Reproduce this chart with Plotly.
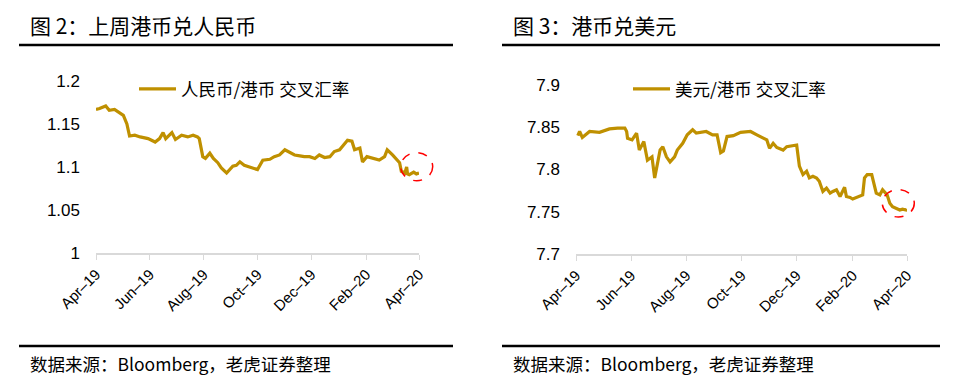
import plotly.graph_objects as go

# ---------------- data ----------------
cny_dates = ["2019-04-01","2019-04-05","2019-04-12","2019-04-16","2019-04-22","2019-04-28","2019-05-02",
             "2019-05-06","2019-05-09","2019-05-15","2019-05-21","2019-05-30","2019-06-07","2019-06-12",
             "2019-06-16","2019-06-19","2019-06-26","2019-06-30","2019-07-07","2019-07-14","2019-07-20",
             "2019-07-25","2019-07-27","2019-07-31","2019-08-03","2019-08-08","2019-08-12","2019-08-17",
             "2019-08-21","2019-08-27","2019-08-30","2019-09-03","2019-09-07","2019-09-11","2019-09-16",
             "2019-09-22","2019-10-01","2019-10-07","2019-10-15","2019-10-20","2019-10-26","2019-11-01",
             "2019-11-06","2019-11-12","2019-11-18","2019-11-23","2019-11-29","2019-12-05","2019-12-10",
             "2019-12-16","2019-12-22","2019-12-27","2020-01-02","2020-01-07","2020-01-11","2020-01-16",
             "2020-01-19","2020-01-25","2020-01-28","2020-02-02","2020-02-09","2020-02-16","2020-02-22",
             "2020-02-25","2020-03-02","2020-03-08","2020-03-10","2020-03-12","2020-03-16","2020-03-18",
             "2020-03-19","2020-03-21","2020-03-26","2020-03-29","2020-04-01"]
cny_values = [1.167,1.168,1.171,1.166,1.167,1.163,1.160,
              1.150,1.136,1.137,1.135,1.133,1.129,1.133,
              1.140,1.133,1.140,1.132,1.137,1.135,1.137,
              1.135,1.133,1.112,1.110,1.116,1.110,1.105,
              1.099,1.093,1.096,1.101,1.102,1.106,1.102,
              1.100,1.097,1.108,1.109,1.112,1.114,1.120,
              1.117,1.114,1.113,1.112,1.112,1.110,1.114,
              1.111,1.112,1.118,1.120,1.126,1.131,1.130,
              1.120,1.122,1.106,1.112,1.110,1.108,1.112,
              1.120,1.114,1.108,1.105,1.095,1.093,1.100,
              1.092,1.091,1.094,1.092,1.093]

usd_dates = ["2019-04-03","2019-04-05","2019-04-08","2019-04-11","2019-04-16","2019-04-27","2019-05-03",
             "2019-05-08","2019-05-17","2019-05-25","2019-05-27","2019-05-28","2019-06-02","2019-06-07",
             "2019-06-10","2019-06-15","2019-06-19","2019-06-24","2019-06-27","2019-06-29","2019-07-03",
             "2019-07-06","2019-07-10","2019-07-14","2019-07-19","2019-07-22","2019-07-28","2019-08-02",
             "2019-08-08","2019-08-12","2019-08-16","2019-08-23","2019-08-30","2019-09-04","2019-09-08",
             "2019-09-11","2019-09-15","2019-09-22","2019-09-30","2019-10-11","2019-10-18","2019-10-25",
             "2019-10-29","2019-11-01","2019-11-05","2019-11-09","2019-11-16","2019-11-20","2019-12-01",
             "2019-12-04","2019-12-08","2019-12-12","2019-12-15","2019-12-19","2019-12-23","2019-12-26",
             "2019-12-30","2020-01-03","2020-01-07","2020-01-10","2020-01-14","2020-01-18","2020-01-21",
             "2020-01-23","2020-01-25","2020-01-29","2020-02-01","2020-02-05","2020-02-09","2020-02-12",
             "2020-02-14","2020-02-17","2020-02-22","2020-02-25","2020-02-27","2020-03-02","2020-03-05",
             "2020-03-10","2020-03-13","2020-03-16","2020-03-21","2020-03-24","2020-03-27","2020-03-31",
             "2020-04-01"]
usd_values = [7.840,7.845,7.838,7.841,7.845,7.844,7.846,
              7.848,7.849,7.849,7.845,7.837,7.835,7.843,
              7.823,7.833,7.811,7.815,7.790,7.800,7.823,
              7.827,7.815,7.809,7.815,7.823,7.831,7.841,
              7.847,7.843,7.844,7.845,7.841,7.841,7.820,
              7.822,7.839,7.840,7.844,7.845,7.841,7.837,
              7.835,7.825,7.831,7.826,7.823,7.827,7.829,
              7.804,7.794,7.798,7.790,7.792,7.790,7.786,
              7.774,7.778,7.772,7.774,7.776,7.768,7.776,
              7.779,7.768,7.767,7.765,7.767,7.769,7.770,
              7.790,7.794,7.794,7.780,7.772,7.770,7.776,
              7.770,7.760,7.756,7.754,7.752,7.753,7.752,
              7.753]

titles = ["图 2：上周港币兑人民币", "图 3：港币兑美元"]
legend_names = ["人民币/港币 交叉汇率", "美元/港币 交叉汇率"]
source_text = "数据来源：Bloomberg，老虎证券整理"
cny_ticks = [1, 1.05, 1.1, 1.15, 1.2]
cny_ticktext = ["1", "1.05", "1.1", "1.15", "1.2"]
usd_ticks = [7.7, 7.75, 7.8, 7.85, 7.9]
usd_ticktext = ["7.7", "7.75", "7.8", "7.85", "7.9"]

# ---------------- styling ----------------
BODY = 8                      # default page margin around the plot div
W, H = 965 - BODY, 392 - BODY
GOLD = "#BF9000"
CJK = "Noto Sans CJK SC"
NUM = "Liberation Sans, Arial, Noto Sans CJK SC"
AXIS_GRAY = "#D9D9D9"

def px_x(p):
    return (p - BODY) / W

def px_y(p):
    return 1 - (p - BODY) / H

fig = go.Figure()
fig.add_trace(go.Scatter(x=cny_dates, y=cny_values, mode="lines", name=legend_names[0],
                         line=dict(color=GOLD, width=3.2), xaxis="x", yaxis="y", legend="legend"))
fig.add_trace(go.Scatter(x=usd_dates, y=usd_values, mode="lines", name=legend_names[1],
                         line=dict(color=GOLD, width=3.2), xaxis="x2", yaxis="y2", legend="legend2"))

xcommon = dict(type="date", range=["2019-04-01", "2020-04-01"], tick0="2019-04-01", dtick="M2",
               tickformat="%b–%y", tickangle=-45, showline=True, linecolor=AXIS_GRAY, linewidth=1.5,
               ticks="outside", ticklen=5, tickcolor=AXIS_GRAY, tickwidth=1, showgrid=False, zeroline=False,
               tickfont=dict(family=NUM, size=15, color="#000000"), fixedrange=True, automargin=False)
ycommon = dict(showline=False, showgrid=False, zeroline=False, ticks="",
               tickfont=dict(family=NUM, size=17, color="#000000"), ticklabelstandoff=15,
               fixedrange=True, automargin=False)

fig.update_layout(
    template="none",
    width=W, height=H, margin=dict(l=0, r=0, t=0, b=0, pad=0, autoexpand=False), autosize=False,
    paper_bgcolor="white", plot_bgcolor="white",
    xaxis=dict(xcommon, domain=[px_x(96), px_x(419)], anchor="y"),
    yaxis=dict(ycommon, domain=[px_y(253), px_y(81)], range=[1, 1.2], tickvals=cny_ticks,
               ticktext=cny_ticktext, anchor="x"),
    xaxis2=dict(xcommon, domain=[px_x(576), px_x(907)], anchor="y2"),
    yaxis2=dict(ycommon, domain=[px_y(254), px_y(85)], range=[7.7, 7.9], tickvals=usd_ticks,
                ticktext=usd_ticktext, anchor="x2"),
    legend=dict(x=px_x(134), y=px_y(89), xanchor="left", yanchor="middle", bgcolor="rgba(0,0,0,0)",
                borderwidth=0, itemwidth=37, font=dict(family=CJK, size=17.5, color="#000000")),
    legend2=dict(x=px_x(628), y=px_y(89), xanchor="left", yanchor="middle", bgcolor="rgba(0,0,0,0)",
                 borderwidth=0, itemwidth=37, font=dict(family=CJK, size=17.5, color="#000000")),
    showlegend=True,
)

# titles and sources
for tx, title, rule in [(30, titles[0], (19, 453)), (513, titles[1], (502, 940))]:
    fig.add_annotation(x=px_x(tx), y=px_y(25), xref="paper", yref="paper", text=title, showarrow=False,
                       xanchor="left", yanchor="middle", xshift=-2,
                       font=dict(family=CJK, size=21, color="#000000"))
    fig.add_annotation(x=px_x(tx), y=px_y(363), xref="paper", yref="paper", text=source_text,
                       showarrow=False, xanchor="left", yanchor="middle", xshift=-2,
                       font=dict(family=CJK, size=17.5, color="#000000"))
    for yy in (45, 346):
        fig.add_shape(type="line", xref="paper", yref="paper", x0=px_x(rule[0]), x1=px_x(rule[1]),
                      y0=px_y(yy), y1=px_y(yy), line=dict(color="#000000", width=2.5))

# dashed highlight circles (centre x, centre y, radius x, radius y in page pixels)
for cx, cy, rx, ry in [(416.7, 166.7, 16, 14), (898.3, 203.3, 16, 13.7)]:
    fig.add_shape(type="circle", xref="paper", yref="paper",
                  x0=px_x(cx - rx), x1=px_x(cx + rx), y0=px_y(cy + ry), y1=px_y(cy - ry),
                  line=dict(color="#FF0000", width=1.5, dash="dash"))

fig.write_html("out.html")
